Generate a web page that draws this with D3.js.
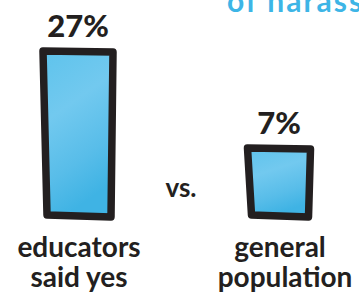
<!DOCTYPE html>
<html>
<head>
<meta charset="utf-8">
<script src="https://cdn.jsdelivr.net/npm/d3@7"></script>
<style>
  body { margin: 0; background: #fff; }
  svg { display: block; }
  text { font-family: Lato, "Open Sans", sans-serif; fill: #231f20; }
</style>
</head>
<body>
<div id="chart"></div>
<script>
// data
var groups = ["educators", "general"];
var values = [27, 7];
var valueLabels = ["27%", "7%"];
var groupLines = [["educators", "said yes"], ["general", "population"]];
var headline = "of harassment";

var width = 359, height = 300;

var svg = d3.select("#chart").append("svg")
    .attr("width", width)
    .attr("height", height);

var defs = svg.append("defs");
var grad = defs.append("linearGradient")
    .attr("id", "water")
    .attr("x1", 0).attr("y1", 0).attr("x2", 0.3).attr("y2", 1);
grad.append("stop").attr("offset", "0%").attr("stop-color", "#5ec3ec");
grad.append("stop").attr("offset", "40%").attr("stop-color", "#72c9ef");
grad.append("stop").attr("offset", "75%").attr("stop-color", "#58bde9");
grad.append("stop").attr("offset", "100%").attr("stop-color", "#3fb3e4");

// x centres for the two bars
var x = d3.scaleOrdinal()
    .domain(groups)
    .range([78, 279]);

var barW = d3.scaleOrdinal()
    .domain(groups)
    .range([68, 61]);

// the picture is not drawn to zero, so the domain is offset
var y = d3.scaleLinear()
    .domain([-7.2, 27])
    .range([217, 51]);

// headline cut off at the top
svg.append("text")
    .attr("x", 227)
    .attr("y", 12)
    .style("font-size", "30px")
    .style("font-weight", "bold")
    .style("fill", "#3db5e6")
    .style("letter-spacing", "2px")
    .text(headline);

var bar = svg.selectAll("g.bar")
    .data(groups)
    .enter().append("g")
    .attr("class", "bar");

// slightly wobbly hand-drawn box
bar.append("path")
    .attr("d", function(d, i) {
      var cx = x(d), w = barW(d), top = y(values[i]), bot = y(-7.2);
      var p = d3.path();
      p.moveTo(cx - w / 2 - 1, top);
      p.lineTo(cx + w / 2 + 1, top + 1);
      p.lineTo(cx + w / 2 - 1, bot);
      p.lineTo(cx - w / 2 + 3, bot - 2);
      p.closePath();
      return p.toString();
    })
    .attr("fill", "url(#water)")
    .attr("stroke", "#231f20")
    .attr("stroke-width", 7.5)
    .attr("stroke-linejoin", "round");

bar.append("text")
    .attr("x", function(d) { return x(d); })
    .attr("y", function(d, i) { return y(values[i]) - 14; })
    .attr("text-anchor", "middle")
    .style("font-size", "31px")
    .style("font-weight", "900")
    .text(function(d, i) { return valueLabels[i]; });

bar.append("text")
    .attr("text-anchor", "middle")
    .style("font-size", "28px")
    .style("font-weight", "bold")
    .selectAll("tspan")
    .data(function(d, i) { return groupLines[i].map(function(t) { return { t: t, g: d }; }); })
    .enter().append("tspan")
    .attr("x", function(d, j) { return x(d.g) + (d.g == "general" && j == 1 ? 6 : 1); })
    .attr("y", function(d, j) { return 257 + j * 30; })
    .text(function(d) { return d.t; });

svg.append("text")
    .attr("x", 181)
    .attr("y", 197)
    .attr("text-anchor", "middle")
    .style("font-size", "26px")
    .style("font-weight", "bold")
    .text("vs.");
</script>
</body>
</html>
